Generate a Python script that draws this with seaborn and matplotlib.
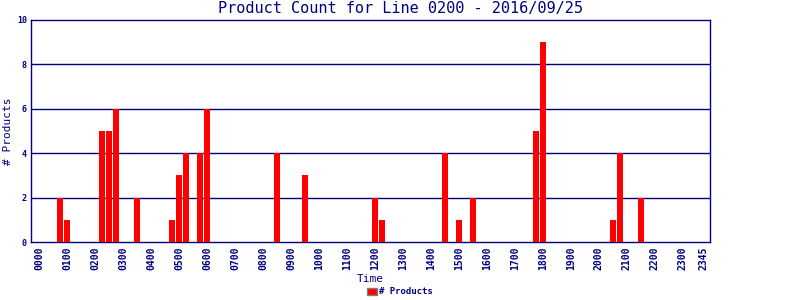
import matplotlib
matplotlib.use("Agg")
import matplotlib.pyplot as plt
import seaborn as sns
import pandas as pd
from matplotlib.patches import Patch

# Data: 15-minute slots with nonzero product counts
bar_times = ["0045", "0100", "0215", "0230", "0245", "0330", "0445", "0500", "0515",
             "0545", "0600", "0830", "0930", "1200", "1215", "1430", "1500", "1530",
             "1745", "1800", "2030", "2045", "2130"]
bar_counts = [2, 1, 5, 5, 6, 2, 1, 3, 4, 4, 6, 4, 3, 2, 1, 4, 1, 2, 5, 9, 1, 4, 2]
tick_labels = ["0000", "0100", "0200", "0300", "0400", "0500", "0600", "0700", "0800",
               "0900", "1000", "1100", "1200", "1300", "1400", "1500", "1600", "1700",
               "1800", "1900", "2000", "2100", "2200", "2300", "2345"]
y_ticks = [0, 2, 4, 6, 8, 10]

all_slots = [f"{h:02d}{m:02d}" for h in range(24) for m in (0, 15, 30, 45)]
lookup = dict(zip(bar_times, bar_counts))
df = pd.DataFrame({"Time": all_slots, "Count": [lookup.get(s, 0) for s in all_slots]})

navy = "#000080"
sns.set_theme(style="white")
plt.rcParams['font.family'] = ['DejaVu Sans Mono', 'DejaVu Sans']

fig = plt.figure(figsize=(8, 3), dpi=100)
ax = fig.add_axes([31/800, 1-242/300, 679/800, 222/300])

sns.barplot(data=df, x="Time", y="Count", order=all_slots, color="#ff0000",
            saturation=1, width=0.77, ax=ax, zorder=3)
for p in ax.patches:
    p.set_edgecolor("none")

ax.set_ylim(0, 10)
ax.set_xlim(-1.14, 95.86)
ax.set_yticks(y_ticks)
ax.set_yticklabels([str(v) for v in y_ticks], fontsize=6, color=navy, fontweight="bold")
pos = [all_slots.index(t) for t in tick_labels]
ax.set_xticks(pos)
ax.set_xticklabels(tick_labels, rotation=90, fontsize=7, color=navy, fontweight="bold")
ax.tick_params(axis="both", length=0, pad=3)
for y in [2, 4, 6, 8]:
    ax.axhline(y, color=navy, lw=1, zorder=2)
for s in ax.spines.values():
    s.set_color(navy)
    s.set_linewidth(1)
    s.set_visible(True)

ax.set_xlabel("Time", fontsize=8, color=navy, labelpad=3)
ax.set_ylabel("# Products", fontsize=8, color=navy)
ax.yaxis.set_label_coords(-0.027, 0.5)
fig.suptitle("Product Count for Line 0200 - 2016/09/25", x=0.5, y=0.995,
             fontsize=11, color=navy)

handles = [Patch(facecolor="#ff0000", edgecolor="#808080", label="# Products")]
leg = fig.legend(handles=handles, loc="lower center", bbox_to_anchor=(0.5, -0.015),
                 frameon=False, handlelength=1.1, handleheight=0.8,
                 handletextpad=0.3, prop={"weight": "bold", "size": 6.5})
for t in leg.get_texts():
    t.set_color(navy)

fig.savefig("out.png", dpi=100)
